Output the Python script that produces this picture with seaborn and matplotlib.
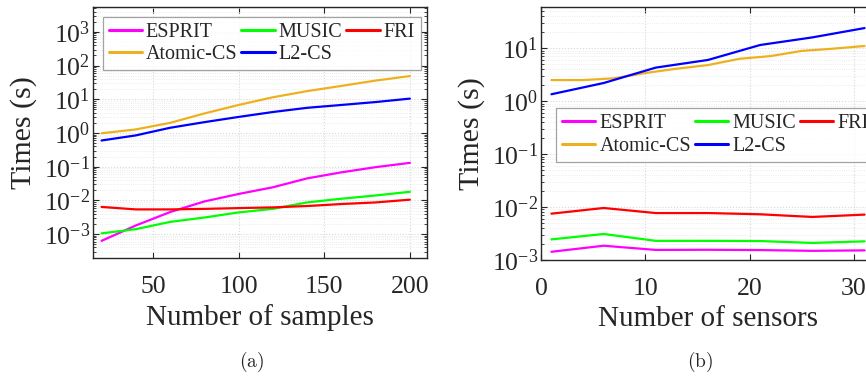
import numpy as np
import pandas as pd
import matplotlib
matplotlib.use("Agg")
import matplotlib.pyplot as plt
import seaborn as sns
from matplotlib.ticker import LogLocator, NullFormatter
from matplotlib.lines import Line2D

# ---------------- data: panel (a) ----------------
samples = [20, 40, 60, 80, 100, 120, 140, 160, 180, 200]
a_esprit = [6.3e-4, 1.8e-3, 4.5e-3, 9.3e-3, 1.55e-2, 2.45e-2, 4.5e-2, 6.8e-2, 9.7e-2, 0.13]
a_music = [1.05e-3, 1.4e-3, 2.3e-3, 3.1e-3, 4.4e-3, 5.6e-3, 8.7e-3, 1.12e-2, 1.4e-2, 1.8e-2]
a_fri = [6.4e-3, 5.4e-3, 5.4e-3, 5.6e-3, 5.9e-3, 6.2e-3, 6.8e-3, 7.8e-3, 8.7e-3, 1.05e-2]
a_atomic = [0.98, 1.28, 2.0, 3.8, 6.8, 11.5, 17.5, 25.0, 36.0, 49.0]
a_l2 = [0.6, 0.85, 1.43, 2.1, 3.0, 4.2, 5.6, 6.8, 8.3, 10.5]

# ---------------- data: panel (b) ----------------
sensors5 = [1, 6, 11, 16, 21, 26, 31]
sensors3 = [1, 4, 7, 10, 13, 16, 19, 22, 25, 28, 31]
b_esprit = [1.43e-3, 1.86e-3, 1.55e-3, 1.56e-3, 1.54e-3, 1.49e-3, 1.52e-3]
b_music = [2.45e-3, 3.1e-3, 2.3e-3, 2.3e-3, 2.28e-3, 2.1e-3, 2.25e-3]
b_fri = [7.5e-3, 9.6e-3, 7.7e-3, 7.7e-3, 7.3e-3, 6.5e-3, 7.2e-3]
b_l2 = [1.35, 2.2, 4.3, 6.0, 11.5, 16.0, 24.0]
b_atomic = [2.5, 2.5, 2.7, 3.4, 4.1, 4.8, 6.3, 7.1, 8.9, 9.8, 11.0]

methods = ["ESPRIT", "MUSIC", "FRI", "Atomic-CS", "L2-CS"]
colors = {"ESPRIT": "#ff00ff", "MUSIC": "#00ff00", "FRI": "#ff0000",
          "Atomic-CS": "#EDB120", "L2-CS": "#0000ff"}
leg_order = ["ESPRIT", "Atomic-CS", "MUSIC", "L2-CS", "FRI"]


def frame(pairs):
    rows = []
    for name, xs, ys in pairs:
        for x, y in zip(xs, ys):
            rows.append({"x": x, "t": y, "Method": name})
    return pd.DataFrame(rows)


df_a = frame([("ESPRIT", samples, a_esprit), ("MUSIC", samples, a_music),
              ("FRI", samples, a_fri), ("Atomic-CS", samples, a_atomic),
              ("L2-CS", samples, a_l2)])
df_b = frame([("ESPRIT", sensors5, b_esprit), ("MUSIC", sensors5, b_music),
              ("FRI", sensors5, b_fri), ("Atomic-CS", sensors3, b_atomic),
              ("L2-CS", sensors5, b_l2)])

sns.set_style("ticks")
plt.rcParams["font.family"] = ["Liberation Serif", "DejaVu Serif"]
plt.rcParams["mathtext.fontset"] = "stix"

W, H = 866, 378
fig = plt.figure(figsize=(W / 100, H / 100), dpi=100)

ax_a = fig.add_axes([93 / W, (H - 258) / H, 334 / W, 251 / H])
ax_b = fig.add_axes([541 / W, (H - 260) / H, 334 / W, 253 / H])


def style(ax, df, xlim, ylim, xticks, xlabel):
    sns.lineplot(data=df, x="x", y="t", hue="Method", hue_order=methods,
                 palette=colors, linewidth=1.6, ax=ax, legend=False,
                 estimator=None, sort=False)
    ax.set_yscale("log")
    ax.set_xlim(*xlim)
    ax.set_ylim(*ylim)
    ax.set_xticks(xticks)
    ax.yaxis.set_major_locator(LogLocator(base=10, numticks=20))
    ax.yaxis.set_minor_locator(LogLocator(base=10, subs=np.arange(2, 10), numticks=50))
    ax.yaxis.set_minor_formatter(NullFormatter())
    ax.grid(True, which="major", color="#d8d8d8", linestyle=":", linewidth=0.8)
    ax.grid(True, which="minor", axis="y", color="#e6e6e6", linestyle=":", linewidth=0.6)
    ax.tick_params(which="both", direction="in", top=True, right=True,
                   colors="#262626", labelsize=18.5)
    ax.tick_params(which="major", length=4, width=0.8)
    ax.tick_params(which="minor", length=2, width=0.6)
    ax.tick_params(axis="x", pad=13)
    ax.tick_params(axis="y", pad=2)
    for s in ax.spines.values():
        s.set_color("#262626")
        s.set_linewidth(1.0)
    ax.set_xlabel(xlabel, fontsize=21, color="#262626", labelpad=4)
    ax.set_ylabel("Times (s)", fontsize=21.5, color="#262626", labelpad=5)
    return [Line2D([0], [0], color=colors[m], lw=2.2) for m in leg_order]


def legend(ax, hs, anchor):
    leg = ax.legend(hs, leg_order, ncol=3, loc="upper left", bbox_to_anchor=anchor,
                    fontsize=14.5, frameon=True, fancybox=False, handlelength=1.65,
                    handletextpad=0.2, columnspacing=0.2, borderpad=0.3,
                    labelspacing=0.18, borderaxespad=0)
    leg.get_frame().set_edgecolor("#8c8c8c")
    leg.get_frame().set_linewidth(0.9)


hs = style(ax_a, df_a, (15, 210), (1.95e-4, 5.5e3), [50, 100, 150, 200], "Number of samples")
legend(ax_a, hs, (9.5 / 334, 1 - 9.5 / 251))

hs = style(ax_b, df_b, (0, 32), (1e-3, 60), [0, 10, 20, 30], "Number of sensors")
legend(ax_b, hs, (15 / 334, 1 - 101 / 253))

fig.text(252 / W, 1 - 362 / H, r"$\mathrm{(a)}$", ha="center", va="center", fontsize=14,
         math_fontfamily="cm", color="#262626")
fig.text(700 / W, 1 - 362 / H, r"$\mathrm{(b)}$", ha="center", va="center", fontsize=14,
         math_fontfamily="cm", color="#262626")

fig.savefig("out.png", dpi=100)
